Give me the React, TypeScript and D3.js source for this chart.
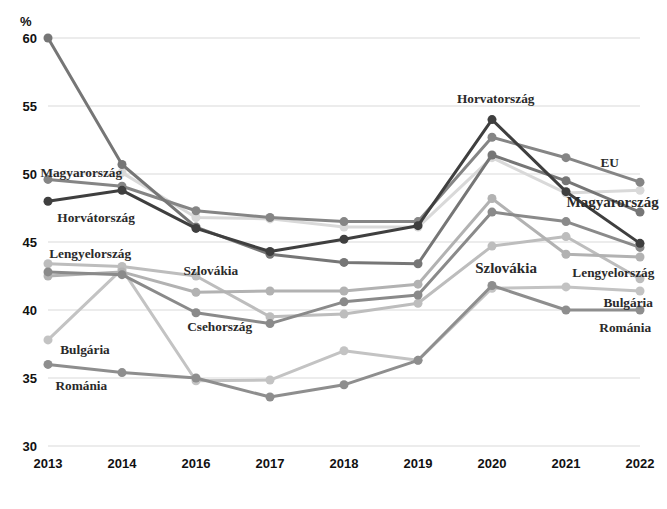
import { useMemo } from 'react'
import * as d3 from 'd3'

const years = ['2013', '2014', '2016', '2017', '2018', '2019', '2020', '2021', '2022']
const yTicks = [30, 35, 40, 45, 50, 55, 60]

// values, % (null = no point)
const seriesA = [60.0, 50.7, 46.1, 44.1, 43.5, 43.4, 51.4, 49.5, 47.2]
const seriesEU = [49.6, 49.1, 47.3, 46.8, 46.5, 46.5, 52.7, 51.2, 49.4]
const seriesHR = [48.0, 48.8, 46.0, 44.3, 45.2, 46.2, 54.0, 48.7, 44.9]
const seriesLight = [null, 50.1, 46.8, 46.7, 46.1, 46.1, 51.2, 48.6, 48.8]
const seriesPL = [43.4, 43.2, 42.5, 39.5, 39.7, 40.5, 44.7, 45.4, 42.3]
const seriesSK = [42.5, 42.8, 41.3, 41.4, 41.4, 41.9, 48.2, 44.1, 43.9]
const seriesCZ = [42.8, 42.6, 39.8, 39.0, 40.6, 41.1, 47.2, 46.5, 44.6]
const seriesBG = [37.8, 43.0, 34.8, 34.85, 37.0, 36.3, 41.6, 41.7, 41.4]
const seriesRO = [36.0, 35.4, 35.0, 33.6, 34.5, 36.3, 41.8, 40.0, 40.0]

// label text, anchor year, shift (fraction of a step), baseline value
const labelTexts = ['Magyarország', 'Horvátország', 'Lengyelország', 'Szlovákia', 'Csehország', 'Bulgária', 'Románia',
  'Horvatország', 'EU', 'Magyarország', 'Szlovákia', 'Lengyelország', 'Bulgária', 'Románia']
const labelYears = ['2013', '2013', '2013', '2016', '2016', '2013', '2013', '2020', '2021', '2021', '2020', '2021', '2021', '2021']
const labelShift = [0.45, 0.65, 0.57, 0.2, 0.32, 0.5, 0.45, 0.05, 0.59, 0.63, 0.19, 0.64, 0.84, 0.8]
const labelValues = [49.8, 46.5, 43.8, 42.55, 38.45, 36.75, 34.1, 55.2, 50.5, 47.6, 42.72, 42.45, 40.25, 38.35]

type Series = { key: string; values: (number | null)[]; color: string }

const series: Series[] = [
  { key: 'light', values: seriesLight, color: '#d9d9d9' },
  { key: 'bg', values: seriesBG, color: '#c3c3c3' },
  { key: 'pl', values: seriesPL, color: '#bdbdbd' },
  { key: 'sk', values: seriesSK, color: '#b2b2b2' },
  { key: 'ro', values: seriesRO, color: '#8e8e8e' },
  { key: 'cz', values: seriesCZ, color: '#8a8a8a' },
  { key: 'eu', values: seriesEU, color: '#858585' },
  { key: 'a', values: seriesA, color: '#767676' },
  { key: 'hr', values: seriesHR, color: '#3f3f3f' },
]

export default function App() {
  const width = 667
  const height = 509

  const x = useMemo(() => d3.scalePoint<string>().domain(years).range([48, 640]), [])
  const y = useMemo(() => d3.scaleLinear().domain([30, 60]).range([446, 38]), [])
  const step = x.step()

  const line = d3.line<number | null>()
    .defined(d => d != null)
    .x((_, i) => x(years[i])!)
    .y(d => y(d as number))

  const sans = '"Liberation Sans", Arial, sans-serif'
  const serif = '"Liberation Serif", "Times New Roman", serif'

  return (
    <svg width={width} height={height} style={{ position: 'absolute', left: 0, top: 0, background: '#fff' }}>
      {/* grid */}
      {yTicks.map(t => (
        <line key={t} x1={48} x2={640} y1={y(t)} y2={y(t)} stroke="#d9d9d9" strokeWidth={1} />
      ))}
      {yTicks.map(t => (
        <text key={'t' + t} x={37} y={y(t)} dy="0.35em" textAnchor="end" fontFamily={sans} fontWeight="bold" fontSize={13} fill="#111">{t}</text>
      ))}
      <text x={20} y={26} fontFamily={sans} fontWeight="bold" fontSize={13} fill="#111">%</text>
      {years.map(yr => (
        <text key={yr} x={x(yr)} y={468} textAnchor="middle" fontFamily={sans} fontWeight="bold" fontSize={13} fill="#111">{yr}</text>
      ))}

      {/* lines */}
      {series.map(s => (
        <g key={s.key}>
          <path d={line(s.values) ?? ''} fill="none" stroke={s.color} strokeWidth={3} strokeLinejoin="round" />
          {s.values.map((v, i) => v == null ? null : (
            <circle key={i} cx={x(years[i])} cy={y(v)} r={4.5} fill={s.color} />
          ))}
        </g>
      ))}

      {/* labels */}
      {labelTexts.map((t, i) => (
        <text key={'l' + i}
          x={x(labelYears[i])! + labelShift[i] * step}
          y={y(labelValues[i])}
          textAnchor="middle"
          fontFamily={serif}
          fontWeight="bold"
          fontSize={i === 9 || i === 10 ? 15 : 13.3}
          fill="#2a2a2a">{t}</text>
      ))}
    </svg>
  )
}
